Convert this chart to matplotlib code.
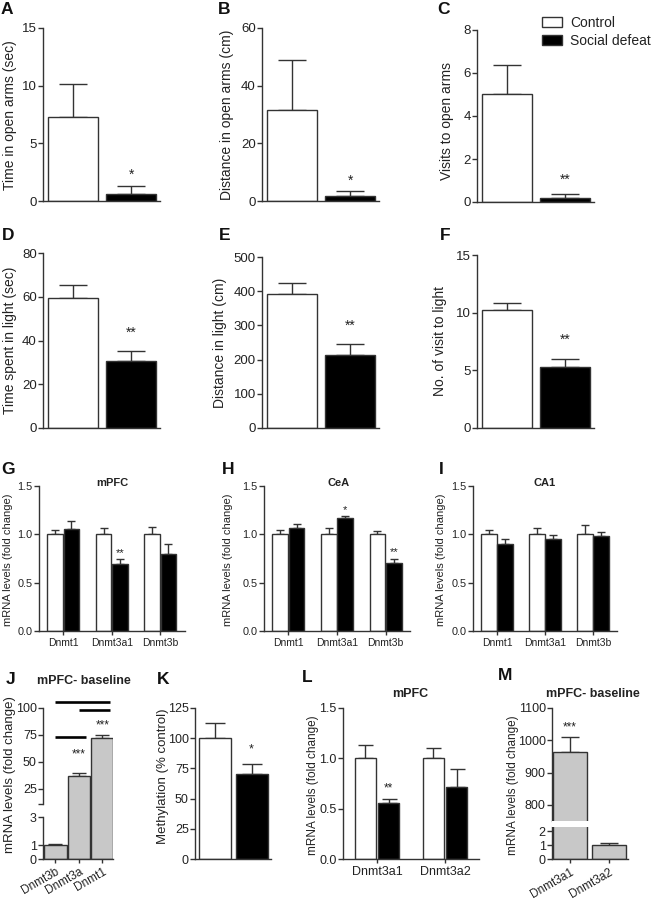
import numpy as np
import matplotlib
matplotlib.use('Agg')
import matplotlib.pyplot as plt
from matplotlib.patches import Patch
import matplotlib.transforms as mtransforms

# ---------------- data ----------------
groups2 = ['Control', 'Social defeat']
A_mean = [7.25, 0.65]; A_sem = [2.9, 0.65]
B_mean = [31.7, 1.7]; B_sem = [17.3, 1.6]
C_mean = [5.0, 0.2]; C_sem = [1.35, 0.15]
D_mean = [59.5, 30.5]; D_sem = [6.0, 4.5]
E_mean = [393, 213]; E_sem = [32, 32]
F_mean = [10.2, 5.3]; F_sem = [0.6, 0.65]
K_mean = [100, 70]; K_sem = [12.5, 9]

genes_GHI = ['Dnmt1', 'Dnmt3a1', 'Dnmt3b']
G_ctrl = [1.0, 1.0, 1.0]; G_ctrl_sem = [0.045, 0.07, 0.08]
G_def = [1.06, 0.69, 0.80]; G_def_sem = [0.08, 0.06, 0.10]
H_ctrl = [1.0, 1.0, 1.0]; H_ctrl_sem = [0.045, 0.07, 0.03]
H_def = [1.065, 1.165, 0.70]; H_def_sem = [0.04, 0.02, 0.05]
I_ctrl = [1.0, 1.0, 1.0]; I_ctrl_sem = [0.05, 0.07, 0.10]
I_def = [0.90, 0.95, 0.98]; I_def_sem = [0.05, 0.04, 0.045]

genes_L = ['Dnmt3a1', 'Dnmt3a2']
L_ctrl = [1.0, 1.0]; L_ctrl_sem = [0.13, 0.10]
L_def = [0.56, 0.72]; L_def_sem = [0.04, 0.17]

genes_J = ['Dnmt3b', 'Dnmt3a', 'Dnmt1']
J_mean = [1.0, 37.0, 72.0]; J_sem = [0.05, 3.0, 3.0]
J_pairs = [(0, 1), (0, 2), (1, 2)]
J_pair_heights = [73, 106, 98]

genes_M = ['Dnmt3a1', 'Dnmt3a2']
M_mean = [965, 1.0]; M_sem = [45, 0.18]

# ---------------- setup ----------------
W, H = 653, 899
plt.rcParams['font.family'] = ['Liberation Sans', 'DejaVu Sans']
TXT = '#222222'
EDGE = '#333333'
GRAY = '#c8c8c8'
plt.rcParams['text.color'] = TXT

fig = plt.figure(figsize=(W / 100, H / 100), dpi=100)


def add_ax(x0, x1, ytop, ybot):
    return fig.add_axes([x0 / W, 1 - ybot / H, (x1 - x0) / W, (ybot - ytop) / H])


def style(ax, tick_fs, xticks=False):
    for s in ['top', 'right']:
        ax.spines[s].set_visible(False)
    for s in ['left', 'bottom']:
        ax.spines[s].set_color(EDGE)
        ax.spines[s].set_linewidth(1.0)
    ax.tick_params(axis='y', direction='out', length=3.5, width=1.0, color=EDGE,
                   labelcolor=TXT, labelsize=tick_fs, pad=1)
    if xticks:
        ax.tick_params(axis='x', direction='out', length=3, width=1.0, color=EDGE,
                       labelcolor=TXT, labelsize=tick_fs, pad=2)
    else:
        ax.tick_params(axis='x', length=0, labelbottom=False)


def ftext(x, y, s, **kw):
    fig.text(x / W, 1 - y / H, s, **kw)


def star(ax, x, y, s, fs):
    ax.annotate(s, (x, y), xytext=(0, -0.22 * fs), textcoords='offset points',
                ha='center', va='center', fontsize=fs, color=TXT, annotation_clip=False)


def ylab(x, y, s, fs):
    ftext(x, y, s, rotation=90, ha='center', va='center', fontsize=fs, color=TXT)


def plabel(x, y, s):
    ftext(x, y, s, ha='center', va='center', fontsize=12.5, fontweight='bold', color='#111111')


# ---------------- top two rows ----------------
two_panels = [
    ('A', A_mean, A_sem, (43, 160, 28, 201), 15, [0, 5, 10, 15], 'Time in open arms (sec)', (10, 115), (7, 10), 2.5, '*'),
    ('B', B_mean, B_sem, (262, 379, 28, 201), 60, [0, 20, 40, 60], 'Distance in open arms (cm)', (227, 115), (224, 10), 8.0, '*'),
    ('C', C_mean, C_sem, (477, 594, 30, 202), 8, [0, 2, 4, 6, 8], 'Visits to open arms', (447, 121), (444, 10), 1.16, '**'),
    ('D', D_mean, D_sem, (43, 160, 253, 428), 80, [0, 20, 40, 60, 80], 'Time spent in light (sec)', (10, 340), (8, 235), 44.8, '**'),
    ('E', E_mean, E_sem, (262, 379, 257, 428), 500, [0, 100, 200, 300, 400, 500], 'Distance in light (cm)', (220, 343), (225, 235), 307, '**'),
    ('F', F_mean, F_sem, (477, 594, 255, 428), 15, [0, 5, 10, 15], 'No. of visit to light', (440, 341), (445, 235), 7.9, '**'),
]
for lab, mean, sem, box, ymax, ticks, ylabel, ylpos, lpos, sy, stxt in two_panels:
    ax = add_ax(*box)
    x = np.arange(len(groups2))
    ax.bar(x, mean, width=0.86, color=['white', 'black'], edgecolor=EDGE, linewidth=1.0, zorder=2)
    ax.errorbar(x, mean, yerr=[np.zeros(2), sem], fmt='none', ecolor=EDGE, elinewidth=1.0,
                capsize=10, capthick=1.0, zorder=1)
    ax.set_xlim(-0.52, 1.5)
    ax.set_ylim(0, ymax)
    ax.set_yticks(ticks)
    style(ax, 9.5)
    star(ax, 1, sy, stxt, 10)
    ylab(*ylpos, ylabel, 10)
    plabel(*lpos, lab)

# legend
handles = [Patch(facecolor='white', edgecolor=EDGE, linewidth=1.0, label=groups2[0]),
           Patch(facecolor='black', edgecolor=EDGE, linewidth=1.0, label=groups2[1])]
fig.legend(handles=handles, loc='upper left', bbox_to_anchor=(542 / W, 1 - 16 / H),
           frameon=False, fontsize=10, handlelength=1.45, handleheight=0.75,
           handletextpad=0.6, labelspacing=0.3, borderpad=0, borderaxespad=0)

# ---------------- G H I ----------------
ghi = [
    ('G', 'mPFC', G_ctrl, G_ctrl_sem, G_def, G_def_sem, (39, 184.5), 8, 112, [(1, 0.83, '**')]),
    ('H', 'CeA', H_ctrl, H_ctrl_sem, H_def, H_def_sem, (264, 410), 228, 339, [(1, 1.28, '*'), (2, 0.84, '**')]),
    ('I', 'CA1', I_ctrl, I_ctrl_sem, I_def, I_def_sem, (473, 617), 441, 545, []),
]
for lab, title, c, cs, d, ds, (x0, x1), lx, tx, stars in ghi:
    ax = add_ax(x0, x1, 486, 631)
    x = np.arange(len(genes_GHI))
    off, bw = 0.17, 0.32
    ax.bar(x - off, c, width=bw, color='white', edgecolor=EDGE, linewidth=1.0, zorder=2)
    ax.bar(x + off, d, width=bw, color='black', edgecolor=EDGE, linewidth=1.0, zorder=2)
    ax.errorbar(x - off, c, yerr=[np.zeros(3), cs], fmt='none', ecolor=EDGE, elinewidth=1.0,
                capsize=3, capthick=1.0, zorder=1)
    ax.errorbar(x + off, d, yerr=[np.zeros(3), ds], fmt='none', ecolor=EDGE, elinewidth=1.0,
                capsize=3, capthick=1.0, zorder=1)
    ax.set_xlim(-0.5, 2.5)
    ax.set_ylim(0, 1.5)
    ax.set_yticks([0, 0.5, 1.0, 1.5])
    ax.set_yticklabels(['0.0', '0.5', '1.0', '1.5'])
    ax.set_xticks(x)
    ax.set_xticklabels(genes_GHI)
    style(ax, 7.8, xticks=True)
    ax.tick_params(axis='x', labelsize=7.5)
    for gi, sy, s in stars:
        star(ax, gi + off, sy, s, 8)
    ftext(tx, 483, title, ha='center', va='center', fontsize=8, fontweight='bold')
    ylab(lx, 560, 'mRNA levels (fold change)', 8)
    plabel(lx if lab != 'G' else 8, 469, lab)


# ---------------- J (broken axis) ----------------
def piecewise(xs, ys):
    xs = np.asarray(xs, float); ys = np.asarray(ys, float)
    return (lambda v: np.interp(v, xs, ys), lambda p: np.interp(p, ys, xs))


axJ = add_ax(43, 113.5, 708, 859)
fJ = piecewise([0, 3, 11, 100, 200], [0, 42, 55, 151, 259])
axJ.set_yscale('function', functions=fJ)
xJ = np.arange(len(genes_J))
axJ.bar(xJ, J_mean, width=0.94, color=GRAY, edgecolor=EDGE, linewidth=1.0, zorder=2)
axJ.errorbar(xJ, J_mean, yerr=[np.zeros(3), J_sem], fmt='none', ecolor=EDGE, elinewidth=1.0,
             capsize=5, capthick=1.0, zorder=1)
axJ.set_xlim(-0.53, 2.47)
axJ.set_ylim(0, 100)
axJ.set_yticks([0, 1, 3, 11, 25, 50, 75, 100])
axJ.set_yticklabels(['0', '1', '3', '', '25', '50', '75', '100'])
axJ.set_xticks(xJ)
axJ.set_xticklabels(genes_J, rotation=30, ha='right', rotation_mode='anchor')
style(axJ, 9, xticks=True)
axJ.tick_params(axis='x', labelsize=8.5)
axJ.spines['left'].set_visible(False)
trJ = mtransforms.blended_transform_factory(axJ.transAxes, axJ.transData)
axJ.plot([0, 0], [0, 3], color=EDGE, lw=1.0, transform=trJ, clip_on=False)
axJ.plot([0, 0], [11, 100], color=EDGE, lw=1.0, transform=trJ, clip_on=False)
for (i, j), hgt in zip(J_pairs, J_pair_heights):
    axJ.plot([xJ[i], xJ[j] + 0.3], [hgt, hgt], color='black', lw=1.9, clip_on=False,
             solid_capstyle='butt')
star(axJ, 1, 59, '***', 8.5)
star(axJ, 2, 86, '***', 8.5)
ftext(84, 681, 'mPFC- baseline', ha='center', va='center', fontsize=9, fontweight='bold')
ylab(10, 775, 'mRNA levels (fold change)', 9.5)
plabel(11, 679, 'J')

# ---------------- K ----------------
axK = add_ax(195, 271, 708, 859)
axK.bar(np.arange(2), K_mean, width=0.88, color=['white', 'black'], edgecolor=EDGE, linewidth=1.0, zorder=2)
axK.errorbar(np.arange(2), K_mean, yerr=[np.zeros(2), K_sem], fmt='none', ecolor=EDGE,
             elinewidth=1.0, capsize=7, capthick=1.0, zorder=1)
axK.set_xlim(-0.55, 1.53)
axK.set_ylim(0, 125)
axK.set_yticks([0, 25, 50, 75, 100, 125])
style(axK, 9)
star(axK, 1, 92.7, '*', 9)
ylab(163, 776, 'Methylation (% control)', 9.5)
plabel(163, 679, 'K')

# ---------------- L ----------------
axL = add_ax(343, 479, 708, 859)
xL = np.arange(len(genes_L))
axL.bar(xL - 0.17, L_ctrl, width=0.32, color='white', edgecolor=EDGE, linewidth=1.0, zorder=2)
axL.bar(xL + 0.17, L_def, width=0.32, color='black', edgecolor=EDGE, linewidth=1.0, zorder=2)
axL.errorbar(xL - 0.17, L_ctrl, yerr=[np.zeros(2), L_ctrl_sem], fmt='none', ecolor=EDGE,
             elinewidth=1.0, capsize=5.4, capthick=1.0, zorder=1)
axL.errorbar(xL + 0.17, L_def, yerr=[np.zeros(2), L_def_sem], fmt='none', ecolor=EDGE,
             elinewidth=1.0, capsize=5.4, capthick=1.0, zorder=1)
axL.set_xlim(-0.5, 1.5)
axL.set_ylim(0, 1.5)
axL.set_yticks([0, 0.5, 1.0, 1.5])
axL.set_yticklabels(['0.0', '0.5', '1.0', '1.5'])
axL.set_xticks(xL)
axL.set_xticklabels(genes_L)
style(axL, 9, xticks=True)
axL.tick_params(axis='x', labelsize=9)
star(axL, 0.17, 0.725, '**', 8.5)
ftext(410, 694, 'mPFC', ha='center', va='center', fontsize=9, fontweight='bold')
ylab(313, 785, 'mRNA levels (fold change)', 8.5)
plabel(307, 678, 'L')

# ---------------- M (broken axis) ----------------
axM = add_ax(552, 628, 708, 859)
fM = piecewise([0, 2.3, 750, 1100, 1400], [0, 32, 38, 151, 248])
axM.set_yscale('function', functions=fM)
xM = np.arange(len(genes_M))
axM.bar(xM, M_mean, width=0.88, color=GRAY, edgecolor=EDGE, linewidth=1.0, zorder=2)
axM.errorbar(xM, M_mean, yerr=[np.zeros(2), M_sem], fmt='none', ecolor=EDGE, elinewidth=1.0,
             capsize=6.5, capthick=1.0, zorder=1)
axM.axhspan(2.35, 750, color='white', zorder=4, lw=0)
axM.set_xlim(-0.47, 1.5)
axM.set_ylim(0, 1100)
axM.set_yticks([0, 1, 2, 800, 900, 1000, 1100])
axM.set_xticks(xM)
axM.set_xticklabels(genes_M, rotation=30, ha='right', rotation_mode='anchor')
style(axM, 9, xticks=True)
axM.tick_params(axis='x', labelsize=8.5)
axM.spines['left'].set_visible(False)
trM = mtransforms.blended_transform_factory(axM.transAxes, axM.transData)
axM.plot([0, 0], [0, 2.35], color=EDGE, lw=1.0, transform=trM, clip_on=False)
axM.plot([0, 0], [750, 1100], color=EDGE, lw=1.0, transform=trM, clip_on=False)
star(axM, 0, 1047, '***', 8.5)
ftext(593, 694, 'mPFC- baseline', ha='center', va='center', fontsize=9, fontweight='bold')
ylab(513, 785, 'mRNA levels (fold change)', 8.5)
plabel(505, 675, 'M')

fig.savefig('out.png', dpi=100)
